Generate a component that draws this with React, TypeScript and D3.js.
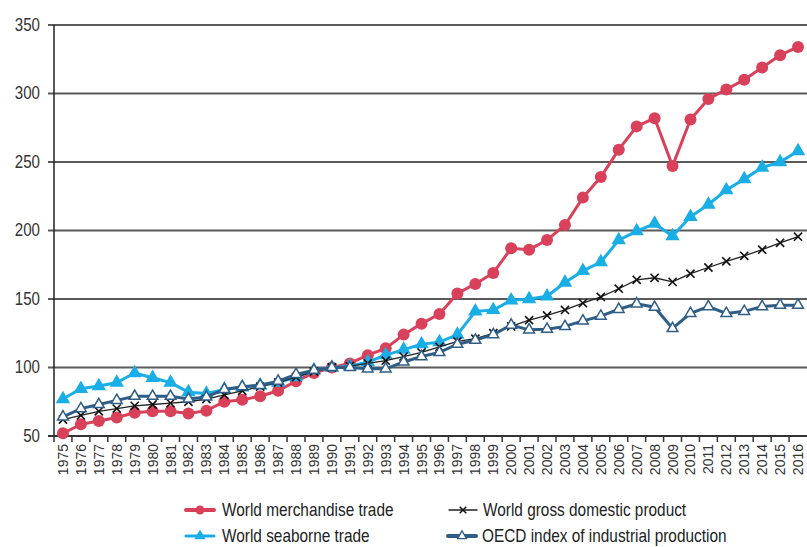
import { useEffect, useRef } from 'react'
import * as d3 from 'd3'

const years = d3.range(1975, 2017).map(String)

const merchandise = [52, 58.5, 61, 63.5, 67, 68, 68, 66.5, 68.5, 75, 76.5, 79, 83, 90, 96, 100, 103, 109, 114, 124, 132, 139, 154, 161, 169, 187, 186, 193, 204, 224, 239, 259, 276, 282, 247, 281, 296, 303, 310, 319, 328, 334]
const seaborne = [77, 84.5, 86.5, 89, 96, 92.5, 89, 82, 81, 84, 85.5, 87, 89, 93, 98, 100, 101, 104, 109, 113, 117, 118.5, 124, 141, 142, 149, 150, 152, 162, 170.5, 177, 193, 199.5, 205, 196, 210, 219, 229.5, 237.5, 246, 250, 258]
const gdp = [62, 65, 68, 70, 72, 73, 74, 75, 77, 80, 83, 86, 89, 93, 97, 100, 101, 103, 105, 108, 111, 115, 119, 121, 125, 130, 134.5, 138, 142, 147, 151.5, 157.5, 164, 165.5, 162.5, 168.5, 173, 177.5, 181.5, 186, 191, 195.5]
const oecd = [64, 70, 73, 76, 79, 79, 79, 77, 78.5, 84, 86, 87, 90, 95, 98, 100, 100, 99, 99, 104, 108, 111, 117, 120, 124, 131, 127.5, 128, 130, 134, 137.5, 142.5, 146.5, 144, 128.5, 139.5, 144.5, 139.5, 141, 144.5, 145.5, 145.5]

const yTicks = [50, 100, 150, 200, 250, 300, 350]

const FONT = "'Liberation Sans', Arial, sans-serif"
const RED = '#d9405a'
const CYAN = '#1aaee6'
const NAVY = '#2f5d86'
const SQUEEZE = 0.84

export default function App() {
  const svgRef = useRef<SVGSVGElement>(null)

  useEffect(() => {
    if (!svgRef.current) return
    const svg = d3.select(svgRef.current)
    svg.selectAll('*').remove()

    const left = 54
    const x = d3.scaleBand().domain(years).range([left, 807])
    const y = d3.scaleLinear().domain([50, 350]).range([436, 25])
    const cx = (yr: string) => (x(yr) as number) + x.bandwidth() / 2

    // grid lines
    svg.append('g')
      .selectAll('line')
      .data(yTicks.filter(d => d > 50))
      .join('line')
      .attr('x1', left - 6)
      .attr('x2', 807)
      .attr('y1', d => y(d))
      .attr('y2', d => y(d))
      .attr('stroke', '#5a5a5a')
      .attr('stroke-width', 2)

    // y axis
    const yAxis = svg.append('g')
    yAxis.append('line')
      .attr('x1', left).attr('x2', left)
      .attr('y1', y(350)).attr('y2', y(50))
      .attr('stroke', '#222').attr('stroke-width', 1.5)
    yAxis.selectAll('text')
      .data(yTicks)
      .join('text')
      .attr('transform', d => `translate(40,${y(d)}) scale(${SQUEEZE},1)`)
      .attr('text-anchor', 'end')
      .attr('dominant-baseline', 'central')
      .attr('font-family', FONT)
      .attr('font-size', 18)
      .attr('fill', '#333')
      .text(d => d)

    // x axis
    const xAxis = svg.append('g')
    xAxis.append('line')
      .attr('x1', left - 6).attr('x2', 807)
      .attr('y1', y(50)).attr('y2', y(50))
      .attr('stroke', '#333').attr('stroke-width', 2)
    xAxis.selectAll('line.tick')
      .data(years)
      .join('line')
      .attr('class', 'tick')
      .attr('x1', d => x(d) as number)
      .attr('x2', d => x(d) as number)
      .attr('y1', y(50))
      .attr('y2', y(50) + 6)
      .attr('stroke', '#333')
      .attr('stroke-width', 1.5)
    xAxis.selectAll('text')
      .data(years)
      .join('text')
      .attr('transform', d => `translate(${cx(d)},${y(50) + 8}) rotate(-90)`)
      .attr('text-anchor', 'end')
      .attr('dominant-baseline', 'central')
      .attr('font-family', FONT)
      .attr('font-size', 14)
      .attr('fill', '#333')
      .text(d => d)

    const line = d3.line<number>()
      .x((_, i) => cx(years[i]))
      .y(d => y(d))

    const tri = d3.symbol().type(d3.symbolTriangle)
    const times = d3.symbol().type(d3.symbolTimes)

    // merchandise
    svg.append('path').attr('d', line(merchandise)).attr('fill', 'none').attr('stroke', RED).attr('stroke-width', 3)
    svg.append('g').selectAll('circle').data(merchandise).join('circle')
      .attr('cx', (_, i) => cx(years[i])).attr('cy', d => y(d)).attr('r', 6).attr('fill', RED)

    // seaborne
    svg.append('path').attr('d', line(seaborne)).attr('fill', 'none').attr('stroke', CYAN).attr('stroke-width', 3)
    svg.append('g').selectAll('path').data(seaborne).join('path')
      .attr('d', tri.size(90)())
      .attr('transform', (d, i) => `translate(${cx(years[i])},${y(d)})`)
      .attr('fill', CYAN)

    // gdp
    svg.append('path').attr('d', line(gdp)).attr('fill', 'none').attr('stroke', '#222').attr('stroke-width', 1.3)
    svg.append('g').selectAll('path').data(gdp).join('path')
      .attr('d', times.size(45)())
      .attr('transform', (d, i) => `translate(${cx(years[i])},${y(d)})`)
      .attr('fill', 'none')
      .attr('stroke', '#111')
      .attr('stroke-width', 1.6)

    // oecd
    svg.append('path').attr('d', line(oecd)).attr('fill', 'none').attr('stroke', NAVY).attr('stroke-width', 3)
    svg.append('g').selectAll('path').data(oecd).join('path')
      .attr('d', tri.size(50)())
      .attr('transform', (d, i) => `translate(${cx(years[i])},${y(d)})`)
      .attr('fill', '#fff')
      .attr('stroke', NAVY)
      .attr('stroke-width', 1.5)

    // legend
    const legendItems = [
      { label: 'World merchandise trade', x: 186, y: 510, kind: 'circle', color: RED },
      { label: 'World gross domestic product', x: 449, y: 510, kind: 'times', color: '#222' },
      { label: 'World seaborne trade', x: 186, y: 536, kind: 'tri', color: CYAN },
      { label: 'OECD index of industrial production', x: 448, y: 536, kind: 'otri', color: NAVY },
    ]
    const lg = svg.append('g')
    legendItems.forEach(it => {
      const g = lg.append('g').attr('transform', `translate(${it.x},${it.y})`)
      const w = 28
      g.append('line').attr('x1', 0).attr('x2', w).attr('y1', 0).attr('y2', 0)
        .attr('stroke', it.color)
        .attr('stroke-width', it.kind === 'times' ? 1.3 : it.kind === 'tri' ? 3 : 4)
        .attr('stroke-linecap', 'round')
      if (it.kind === 'circle') {
        g.append('circle').attr('cx', w / 2).attr('cy', 0).attr('r', 4.5).attr('fill', it.color)
      } else if (it.kind === 'tri') {
        g.append('path').attr('d', tri.size(55)()).attr('transform', `translate(${w / 2},0)`).attr('fill', it.color)
      } else if (it.kind === 'times') {
        g.append('path').attr('d', times.size(30)()).attr('transform', `translate(${w / 2},0)`)
          .attr('fill', 'none').attr('stroke', '#111').attr('stroke-width', 1.5)
      } else {
        g.append('path').attr('d', tri.size(35)()).attr('transform', `translate(${w / 2},0)`)
          .attr('fill', '#fff').attr('stroke', it.color).attr('stroke-width', 1.3)
      }
      g.append('text')
        .attr('transform', `translate(${w + (it.x < 300 ? 8 : 6)},0) scale(0.855,1)`)
        .attr('dominant-baseline', 'central')
        .attr('font-family', FONT)
        .attr('font-size', 18)
        .attr('fill', '#222')
        .text(it.label)
    })
  }, [])

  return (
    <svg
      ref={svgRef}
      width={807}
      height={547}
      style={{ position: 'absolute', left: 0, top: 0, background: '#fff' }}
    />
  )
}
